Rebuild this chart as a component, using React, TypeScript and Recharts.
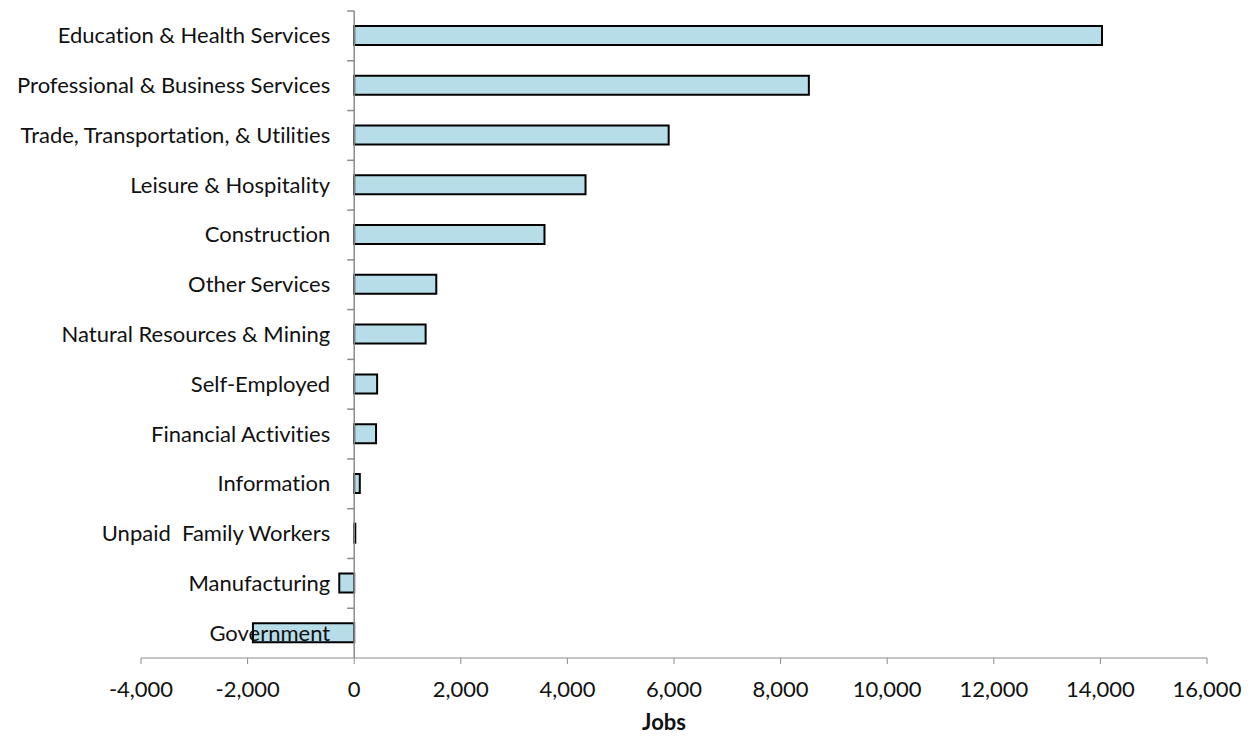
import { BarChart, Bar, XAxis, YAxis, ReferenceLine } from 'recharts';

const industries = [
  'Education & Health Services',
  'Professional & Business Services',
  'Trade, Transportation, & Utilities',
  'Leisure & Hospitality',
  'Construction',
  'Other Services',
  'Natural Resources & Mining',
  'Self-Employed',
  'Financial Activities',
  'Information',
  'Unpaid  Family Workers',
  'Manufacturing',
  'Government',
];

const jobs = [14030, 8530, 5900, 4340, 3570, 1540, 1340, 430, 410, 105, 20, -280, -1900];

const xTicks = [-4000, -2000, 0, 2000, 4000, 6000, 8000, 10000, 12000, 14000, 16000];

const data = industries.map((name, i) => ({ name, jobs: jobs[i] }));

const W = 1253;
const H = 736;
const LEFT = 141;
const RIGHT = 46;
const TOP = 11;
const XAXIS_H = 78;
const DOMAIN: [number, number] = [-4000, 16000];
const AXIS = '#8c8c8c';
const FONT = 'Lato, "Open Sans", sans-serif';
const noLig = { fontVariantLigatures: 'none' as const };

// x pixel of value 0, category axis sits there like in Excel
const zeroX = LEFT + ((0 - DOMAIN[0]) / (DOMAIN[1] - DOMAIN[0])) * (W - LEFT - RIGHT);
const band = (H - XAXIS_H - TOP) / industries.length;

function CategoryTick(props: any) {
  const { y, payload } = props;
  return (
    <g>
      <line x1={zeroX - 7} x2={zeroX} y1={y - band / 2} y2={y - band / 2} stroke={AXIS} strokeWidth={1.5} />
      <text
        x={zeroX - 24}
        y={y - 1}
        textAnchor="end"
        dominantBaseline="central"
        fontSize={22}
        fontFamily={FONT}
        fill="#111"
        style={{ whiteSpace: 'pre', ...noLig }}
      >
        {payload.value}
      </text>
    </g>
  );
}

export default function App() {
  return (
    <div style={{ position: 'absolute', left: 0, top: 0, background: '#fff' }}>
      <BarChart
        width={W}
        height={H}
        data={data}
        layout="vertical"
        margin={{ top: TOP, right: RIGHT, bottom: 0, left: 0 }}
      >
        <XAxis
          type="number"
          domain={DOMAIN}
          ticks={xTicks}
          interval={0}
          height={XAXIS_H}
          tickSize={6}
          tickMargin={17}
          stroke={AXIS}
          tick={{ fontSize: 22, fontFamily: FONT, fill: '#111' }}
          tickFormatter={(v) => Number(v).toLocaleString('en-US')}
          label={{
            value: 'Jobs',
            position: 'insideBottom',
            offset: 6,
            dx: -10,
            style: { fontSize: 22, fontWeight: 700, fontFamily: FONT, fill: '#111' },
          }}
        />
        <YAxis
          type="category"
          dataKey="name"
          width={LEFT}
          axisLine={false}
          tickLine={false}
          interval={0}
          tick={<CategoryTick />}
        />
        <ReferenceLine x={0} stroke={AXIS} strokeWidth={1.5} ifOverflow="extendDomain" />
        <Bar dataKey="jobs" fill="#b7dee8" stroke="#000" strokeWidth={2} barSize={19} isAnimationActive={false} />
      </BarChart>
    </div>
  );
}
